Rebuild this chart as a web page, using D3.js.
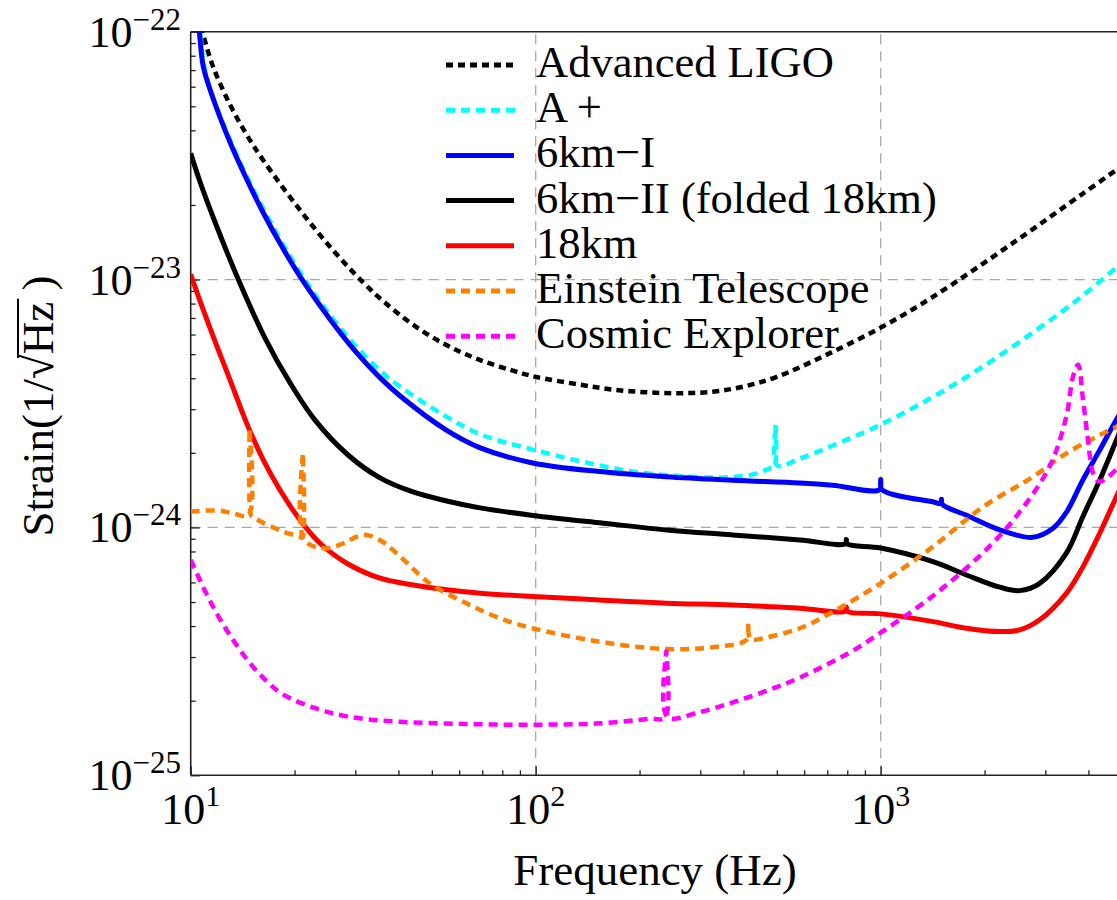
<!DOCTYPE html>
<html><head><meta charset="utf-8">
<script src="https://cdn.jsdelivr.net/npm/d3@7"></script>
<style>body{margin:0;background:#fff}svg{display:block}</style>
</head><body>
<svg id="chart" width="1117" height="900"></svg>
<script>
// ---------------- data ----------------
const seriesNames = ["Advanced LIGO","A +","6km\u2212I","6km\u2212II (folded 18km)","18km","Einstein Telescope","Cosmic Explorer"];
const seriesColors = ["#000000","#00ffff","#0000ff","#000000","#ff0000","#ff8000","#ff00ff"];
const seriesDashed = [true,true,false,false,false,true,true];

const aligoF = [10,10.8,11.6,13,14.5,16.2,20.2,25.3,31.6,36.1,44,55.1,68.8,85.9,100,134,167,209,261,327,400,500,700,1000,1416,2472,3851,5000];
const aligoH = [1.45e-22,1.0e-22,7.25e-23,5.08e-23,3.86e-23,3.04e-23,2.0e-23,1.36e-23,9.74e-24,8.2e-24,6.59e-24,5.44e-24,4.74e-24,4.29e-24,4.05e-24,3.77e-24,3.6e-24,3.51e-24,3.48e-24,3.53e-24,3.7e-24,4.05e-24,4.99e-24,6.4e-24,8.51e-24,1.435e-23,2.22e-23,2.87e-23];

const aplusF = [10,10.6,11.1,13,16.2,20.74,25.34,29.9,35.3,40.4,55.1,68.8,98,150,191,250,334,420,477,492,496,501,583,726,1000,1416,1976,2758,3690,4830,5000];
const aplusH = [1.95e-22,1.05e-22,6.6e-23,3.66e-23,1.94e-23,1.07e-23,7.2e-24,5.45e-24,4.3e-24,3.7e-24,2.8e-24,2.38e-24,2.06e-24,1.79e-24,1.68e-24,1.62e-24,1.59e-24,1.63e-24,1.73e-24,1.76e-24,2.59e-24,1.78e-24,1.895e-24,2.14e-24,2.6e-24,3.36e-24,4.45e-24,6.11e-24,8.22e-24,1.12e-23,1.17e-23];

const km6aF = [10,10.59,10.88,11.63,13,14.53,16.23,18.15,20.74,25.34,29.9,35.3,40.4,55.1,68.8,98,153,239,372,583,726,992,1000,1008,1416,1492,1500,1508,1772,2213,2758,3152,3452,3851,4313,4820,5000];
const km6aH = [1.9e-22,1.0e-22,7.22e-23,5.35e-23,3.58e-23,2.54e-23,1.86e-23,1.4e-23,1.03e-23,6.92e-24,5.17e-24,4.03e-24,3.4e-24,2.47e-24,2.1e-24,1.82e-24,1.68e-24,1.6e-24,1.55e-24,1.51e-24,1.48e-24,1.42e-24,1.56e-24,1.42e-24,1.27e-24,1.25e-24,1.3e-24,1.24e-24,1.12e-24,9.77e-25,9.12e-25,9.9e-25,1.15e-24,1.55e-24,2.05e-24,2.72e-24,2.95e-24];

const km6bF = [10,10.64,11.76,13.8,16.42,19.41,22.93,28.58,35.38,44.1,55.2,69,98.2,157,240,372,583,790,795,800,1000,1418,1772,2213,2529,2891,3452,3859,4313,4820,5000];
const km6bH = [3.23e-23,2.48e-23,1.707e-23,9.87e-24,5.81e-24,3.83e-24,2.71e-24,1.96e-24,1.584e-24,1.39e-24,1.279e-24,1.199e-24,1.118e-24,1.04e-24,9.77e-25,9.33e-25,8.9e-25,8.6e-25,8.95e-25,8.58e-25,8.26e-25,7.28e-25,6.43e-25,5.74e-25,5.56e-25,5.95e-25,7.87e-25,1.11e-24,1.55e-24,2.25e-24,2.55e-24];

const km18F = [10,10.64,11.9,13,14.53,16.23,18.15,20.74,23.71,28.33,35.38,44.18,55.2,69,98.2,153,239,372,583,790,795,800,1000,1418,1772,2213,2529,2891,3452,3859,4313,4820,5000];
const km18H = [1.05e-23,8.2e-24,5.4e-24,3.94e-24,2.63e-24,1.873e-24,1.416e-24,1.072e-24,8.63e-25,7.17e-25,6.24e-25,5.86e-25,5.6e-25,5.43e-25,5.26e-25,5.1e-25,4.95e-25,4.87e-25,4.72e-25,4.6e-25,4.78e-25,4.58e-25,4.48e-25,4.17e-25,3.92e-25,3.8e-25,3.86e-25,4.24e-25,5.42e-25,6.95e-25,9.47e-25,1.33e-24,1.48e-24];

const etF = [10,12,13.3,14.7,14.8,14.95,15.15,18.5,20.7,21.05,21.15,21.3,24.2,27,31.6,35.3,39.5,49.3,63,78.7,98,153,239,334,408,413,419,466,583,727,1000,1418,1979,2762,3452,4612,5000];
const etH = [1.16e-24,1.17e-24,1.14e-24,1.12e-24,2.5e-24,1.12e-24,1.1e-24,9.62e-25,9.18e-25,9.1e-25,1.99e-24,8.95e-25,8.24e-25,8.5e-25,9.33e-25,8.9e-25,7.87e-25,5.95e-25,4.94e-25,4.3e-25,3.92e-25,3.46e-25,3.23e-25,3.3e-25,3.52e-25,4.11e-25,3.54e-25,3.6e-25,3.92e-25,4.57e-25,5.95e-25,8.37e-25,1.21e-24,1.6e-24,1.99e-24,2.47e-24,2.6e-24];

const ceF = [10,11.1,12.1,13.3,14.8,16.6,18.5,23.1,28.9,40.4,63,98,153,214,237,239,241,299,373,466,583,813,1000,1418,1979,2474,3090,3452,3609,3733,3859,3990,4125,4313,4820,5000];
const ceH = [7.4e-25,5.41e-25,4.32e-25,3.5e-25,2.85e-25,2.4e-25,2.12e-25,1.86e-25,1.72e-25,1.645e-25,1.61e-25,1.6e-25,1.62e-25,1.69e-25,1.71e-25,3.16e-25,1.72e-25,1.8e-25,1.97e-25,2.19e-25,2.48e-25,3.13e-25,3.76e-25,5.3e-25,7.9e-25,1.11e-24,1.77e-24,2.8e-24,4.06e-24,4.53e-24,3.27e-24,2.25e-24,1.66e-24,1.53e-24,1.71e-24,1.8e-24];

const xMajorTicks = [10,100,1000];
const xMajorExps = ["1","2","3"];
const yMajorTicks = [1e-25,1e-24,1e-23,1e-22];
const yMajorExps = ["\u221225","\u221224","\u221223","\u221222"];
const gridFreqs = [100,1000];
const gridStrains = [1e-24,1e-23];
const xTitle = "Frequency (Hz)";

// ---------------- layout ----------------
const W = 1117, H = 900;
const font = "'Liberation Serif','Times New Roman',Times,serif";
const x0 = 190.7, x1 = 190.7 + 345*Math.log10(500), yTop = 31.7, yBot = 775.3;
const x = d3.scaleLog().domain([10,5000]).range([x0,x1]);
const y = d3.scaleLog().domain([1e-25,1e-22]).range([yBot,yTop]);

const svg = d3.select("#chart");
svg.append("rect").attr("width",W).attr("height",H).attr("fill","#fff");
svg.append("defs").append("clipPath").attr("id","plotclip")
  .append("rect").attr("x",x0).attr("y",yTop).attr("width",W-x0).attr("height",yBot-yTop);

// grid
const grid = svg.append("g").attr("stroke","#a8a8a8").attr("stroke-width",1.3).attr("stroke-dasharray","10,7");
grid.selectAll("line.gx").data(gridFreqs).join("line").attr("class","gx")
  .attr("x1",d=>x(d)).attr("x2",d=>x(d)).attr("y1",yBot).attr("y2",yTop);
grid.selectAll("line.gy").data(gridStrains).join("line").attr("class","gy")
  .attr("x1",x0).attr("x2",W).attr("y1",d=>y(d)).attr("y2",d=>y(d));

// minor ticks
const xMinor = [];
[10,100,1000].forEach(b=>{for(let k=2;k<=9;k++){const v=b*k; if(v<5000) xMinor.push(v);}});
const yMinor = [];
[1e-25,1e-24,1e-23].forEach(b=>{for(let k=2;k<=9;k++) yMinor.push(b*k);});

function styleAxis(g){ g.select(".domain").remove(); g.selectAll("line").attr("stroke","#222").attr("stroke-width",1.3); g.selectAll("text").remove(); }
svg.append("g").attr("transform",`translate(0,${yBot})`).call(d3.axisBottom(x).tickValues(xMinor).tickSize(-5).tickFormat("")).call(styleAxis);
svg.append("g").attr("transform",`translate(0,${yBot})`).call(d3.axisBottom(x).tickValues(xMajorTicks).tickSize(-9).tickFormat("")).call(styleAxis);
svg.append("g").attr("transform",`translate(${x0},0)`).call(d3.axisLeft(y).tickValues(yMinor).tickSize(-5).tickFormat("")).call(styleAxis);
svg.append("g").attr("transform",`translate(${x0},0)`).call(d3.axisLeft(y).tickValues(yMajorTicks).tickSize(-9).tickFormat("")).call(styleAxis);

// frame
const frame = svg.append("g").attr("stroke","#222").attr("stroke-width",1.6);
frame.append("line").attr("x1",x0).attr("x2",W).attr("y1",yBot).attr("y2",yBot);
frame.append("line").attr("x1",x0).attr("x2",x0).attr("y1",yBot).attr("y2",yTop);
frame.append("line").attr("x1",x0).attr("x2",W).attr("y1",yTop).attr("y2",yTop);

// curves
const allF = [aligoF,aplusF,km6aF,km6bF,km18F,etF,ceF];
const allH = [aligoH,aplusH,km6aH,km6bH,km18H,etH,ceH];
const line = d3.line().x(d=>x(d[0])).y(d=>y(d[1])).curve(d3.curveCatmullRom.alpha(0.5));
const curves = svg.append("g").attr("clip-path","url(#plotclip)");
allF.forEach((fs,i)=>{
  const pts = fs.map((f,j)=>[f,allH[i][j]]);
  curves.append("path").datum(pts).attr("d",line).attr("fill","none")
    .attr("stroke",seriesColors[i]).attr("stroke-width",seriesDashed[i]?4.5:5)
    .attr("stroke-linejoin","round")
    .attr("stroke-dasharray",seriesDashed[i]?(i===0?"7,5":"9,6"):null);
});

// tick labels
const yl = svg.append("g").attr("font-family",font).attr("fill","#000");
yMajorTicks.forEach((v,i)=>{
  const t = yl.append("text").attr("x",181).attr("y",y(v)+15).attr("text-anchor","end").attr("font-size",44);
  t.append("tspan").text("10");
  t.append("tspan").attr("font-size",31).attr("dy",-17).text(yMajorExps[i]);
});
xMajorTicks.forEach((v,i)=>{
  const t = yl.append("text").attr("x",x(v)).attr("y",824).attr("text-anchor","middle").attr("font-size",44);
  t.append("tspan").text("10");
  t.append("tspan").attr("font-size",30).attr("dy",-18).text(xMajorExps[i]);
});

// axis titles
svg.append("text").attr("x",655).attr("y",885).attr("text-anchor","middle")
  .attr("font-family",font).attr("font-size",45).text(xTitle);

const yg = svg.append("g").attr("transform","translate(53,406) rotate(-90)");
const ytxt = yg.append("text").attr("font-family",font).attr("font-size",45).attr("x",0).attr("y",0)
  .text("Strain(1/\u221aHz )");
const node = ytxt.node();
const total = node.getComputedTextLength();
const startX = -total/2;
ytxt.attr("x",startX);
const preLen = node.getSubStringLength(0,10);
const hzLen = node.getSubStringLength(10,2);
const radLen = node.getSubStringLength(9,1);
yg.append("line").attr("x1",startX+preLen-radLen*0.15).attr("x2",startX+preLen+hzLen+3)
  .attr("y1",-35).attr("y2",-35).attr("stroke","#000").attr("stroke-width",2);

// legend
const lg = svg.append("g");
seriesNames.forEach((name,i)=>{
  const cy = 65 + i*45.2;
  lg.append("line").attr("x1",446).attr("x2",seriesDashed[i]?517:514).attr("y1",cy).attr("y2",cy)
    .attr("stroke",seriesColors[i]).attr("stroke-width",5)
    .attr("stroke-dasharray",seriesDashed[i]?(i===0?"7,5":"9,6"):null);
  lg.append("text").attr("x",536).attr("y",cy+12).attr("font-family",font).attr("font-size",44.5).text(name);
});
</script>
</body></html>
